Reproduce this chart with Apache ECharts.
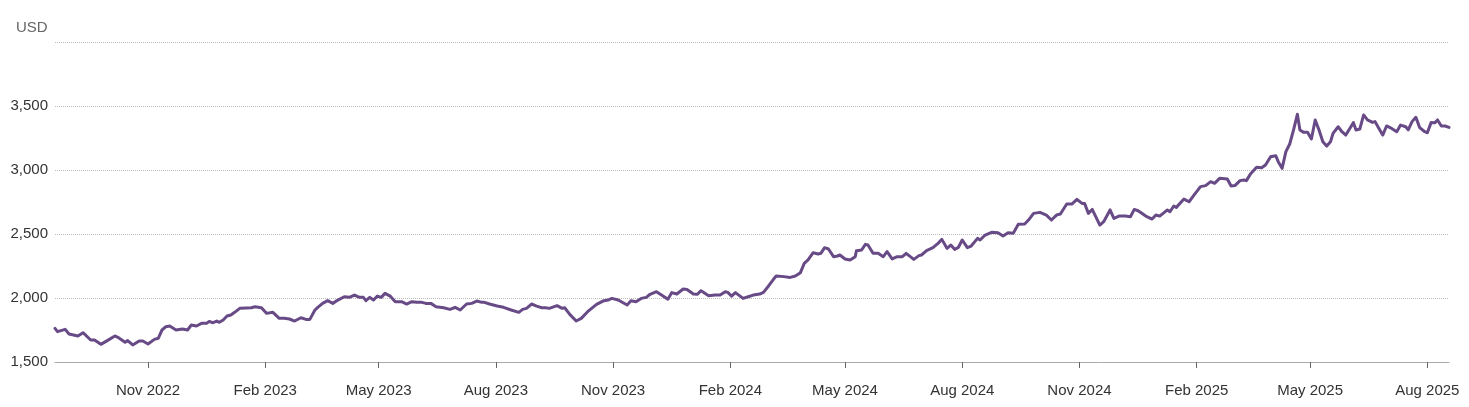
<!DOCTYPE html>
<html>
<head>
<meta charset="utf-8">
<script src="https://cdn.jsdelivr.net/npm/echarts@6/dist/echarts.min.js"></script>
<style>
html,body{margin:0;padding:0;background:#fff;}
#chart{width:1469px;height:407px;}
</style>
</head>
<body>
<div id="chart"></div>
<script>
// Dates of the readings
const dates = [
'2022-08-20','2022-08-22','2022-08-28','2022-08-31',
'2022-09-07','2022-09-11','2022-09-17','2022-09-20','2022-09-25','2022-09-30',
'2022-10-06','2022-10-08','2022-10-14','2022-10-16','2022-10-20','2022-10-25','2022-10-28',
'2022-11-01','2022-11-06','2022-11-09','2022-11-12','2022-11-15','2022-11-18','2022-11-23','2022-11-28',
'2022-12-02','2022-12-05','2022-12-09','2022-12-13','2022-12-17','2022-12-19','2022-12-22','2022-12-25','2022-12-27','2022-12-30',
'2023-01-02','2023-01-05','2023-01-08','2023-01-12','2023-01-17','2023-01-21','2023-01-24','2023-01-29',
'2023-02-02','2023-02-07','2023-02-12','2023-02-16','2023-02-20','2023-02-24',
'2023-03-01','2023-03-05','2023-03-08','2023-03-12','2023-03-14','2023-03-18','2023-03-22','2023-03-26','2023-03-30',
'2023-04-04','2023-04-08','2023-04-12','2023-04-16','2023-04-19','2023-04-21','2023-04-24','2023-04-27','2023-04-30',
'2023-05-03','2023-05-06','2023-05-10','2023-05-14','2023-05-19','2023-05-23','2023-05-27','2023-05-31',
'2023-06-04','2023-06-07','2023-06-11','2023-06-15','2023-06-21','2023-06-26','2023-06-30',
'2023-07-04','2023-07-09','2023-07-13','2023-07-17','2023-07-21','2023-07-23','2023-07-27',
'2023-08-02','2023-08-07','2023-08-13','2023-08-19','2023-08-22','2023-08-25','2023-08-29',
'2023-09-02','2023-09-06','2023-09-09','2023-09-12','2023-09-18','2023-09-22','2023-09-24','2023-09-28',
'2023-10-03','2023-10-07','2023-10-12','2023-10-19','2023-10-24','2023-10-28','2023-10-31',
'2023-11-05','2023-11-12','2023-11-15','2023-11-19','2023-11-23','2023-11-27','2023-11-30',
'2023-12-05','2023-12-09','2023-12-14','2023-12-17','2023-12-21','2023-12-26','2023-12-29',
'2024-01-03','2024-01-06','2024-01-09','2024-01-15','2024-01-20','2024-01-24','2024-01-28','2024-01-30',
'2024-02-02','2024-02-05','2024-02-11','2024-02-15','2024-02-19','2024-02-24','2024-02-27',
'2024-03-02','2024-03-06','2024-03-08','2024-03-14','2024-03-19','2024-03-23','2024-03-27','2024-03-30',
'2024-04-02','2024-04-06','2024-04-10','2024-04-12','2024-04-15','2024-04-18','2024-04-22','2024-04-25','2024-04-27',
'2024-05-01','2024-05-05','2024-05-09','2024-05-10','2024-05-14','2024-05-17','2024-05-19','2024-05-23','2024-05-27','2024-05-31',
'2024-06-03','2024-06-07','2024-06-11','2024-06-15','2024-06-18','2024-06-24','2024-06-28','2024-06-30',
'2024-07-04','2024-07-09','2024-07-13','2024-07-16','2024-07-20','2024-07-23','2024-07-26','2024-07-29',
'2024-08-01','2024-08-05','2024-08-08','2024-08-13','2024-08-15','2024-08-19','2024-08-24','2024-08-29',
'2024-09-02','2024-09-06','2024-09-10','2024-09-14','2024-09-19','2024-09-22','2024-09-26',
'2024-10-01','2024-10-06','2024-10-10','2024-10-14','2024-10-17','2024-10-22','2024-10-26','2024-10-30',
'2024-11-03','2024-11-05','2024-11-08','2024-11-11','2024-11-17','2024-11-20','2024-11-25','2024-11-28',
'2024-12-02','2024-12-07','2024-12-11','2024-12-14','2024-12-17','2024-12-23','2024-12-28','2024-12-31',
'2025-01-03','2025-01-09','2025-01-11','2025-01-14','2025-01-16','2025-01-22','2025-01-26','2025-01-30',
'2025-02-04','2025-02-08','2025-02-12','2025-02-15','2025-02-19','2025-02-25','2025-02-28',
'2025-03-03','2025-03-07','2025-03-10','2025-03-12','2025-03-15','2025-03-20','2025-03-24','2025-03-27','2025-03-31',
'2025-04-04','2025-04-06','2025-04-09','2025-04-12','2025-04-15','2025-04-18','2025-04-21','2025-04-23','2025-04-26','2025-04-29',
'2025-05-02','2025-05-05','2025-05-08','2025-05-11','2025-05-14','2025-05-17','2025-05-19','2025-05-23','2025-05-26','2025-05-29',
'2025-06-02','2025-06-04','2025-06-06','2025-06-09','2025-06-12','2025-06-15','2025-06-19','2025-06-21','2025-06-24','2025-06-27','2025-06-30',
'2025-07-04','2025-07-08','2025-07-11','2025-07-15','2025-07-17','2025-07-20','2025-07-23','2025-07-26','2025-07-30',
'2025-08-01','2025-08-04','2025-08-07','2025-08-09','2025-08-12','2025-08-15','2025-08-18'
];
// Price in USD
const prices = [
1763,1737,1755,1719,
1703,1729,1672,1672,1638,1667,
1703,1695,1654,1667,1633,1664,1664,
1641,1677,1685,1750,1776,1781,1750,1758,
1750,1789,1781,1802,1802,1817,1807,1820,1810,1828,
1859,1867,1888,1919,1922,1924,1932,1924,
1880,1888,1841,1841,1836,1820,
1846,1833,1833,1906,1924,1958,1979,1958,1984,
2010,2005,2023,2005,2005,1979,2005,1984,2015,
2005,2036,2015,1971,1971,1953,1971,1966,
1966,1958,1958,1932,1924,1911,1927,
1906,1953,1958,1976,1966,1966,1953,
1937,1927,1906,1888,1911,1919,1953,
1937,1924,1924,1919,1940,1919,1924,1872,
1820,1841,1893,1950,1976,1984,1997,
1984,1945,1979,1971,1997,2005,2029,
2049,2023,1990,2042,2031,2070,2067,
2031,2029,2057,2018,2023,2023,2049,2044,
2015,2042,1997,2010,2023,2031,2044,
2094,2148,2172,2167,2161,2172,2198,2271,
2297,2354,2344,2349,2393,2383,2323,2328,2336,
2305,2297,2323,2370,2375,2419,2414,2349,2349,2323,
2362,2305,2323,2323,2349,2302,2331,2336,
2370,2393,2427,2458,2388,2414,2380,2396,
2453,2393,2406,2466,2453,2492,2513,2510,
2484,2510,2505,2576,2578,2609,2661,
2669,2648,2609,2648,2656,2734,2734,2771,
2739,2739,2661,2692,2570,2596,2688,2622,
2640,2640,2635,2692,2682,2640,2617,2648,
2640,2688,2674,2719,2708,2773,2752,2805,
2870,2878,2909,2896,2935,2930,2875,
2878,2917,2922,2917,2966,3021,3018,3039,3104,
3112,3065,3013,3143,3203,3313,3435,3313,3294,3294,
3242,3391,3313,3221,3187,3221,3286,3338,3299,3273,
3338,3370,3313,3320,3430,3391,3372,3378,3325,3273,3344,
3325,3299,3351,3338,3313,3378,3412,3331,3299,
3291,3372,3370,3391,3344,3344,3333
];
const tickDates = ['2022-11-01','2023-02-01','2023-05-01','2023-08-01','2023-11-01','2024-02-01',
  '2024-05-01','2024-08-01','2024-11-01','2025-02-01','2025-05-01','2025-08-01'];
const monthNames = ['Jan','Feb','Mar','Apr','May','Jun','Jul','Aug','Sep','Oct','Nov','Dec'];
const yTicks = [1500, 2000, 2500, 3000, 3500];
const unitLabel = 'USD';

const toTs = s => { const p = s.split('-'); return Date.UTC(+p[0], +p[1]-1, +p[2]); };
const seriesData = dates.map((d, i) => [toTs(d), prices[i]]);
const tickTs = tickDates.map(toTs);
const xMin = toTs(dates[0]);
const xMax = toTs(dates[dates.length - 1]);

const chart = echarts.init(document.getElementById('chart'), null, {renderer: 'canvas'});
chart.setOption({
  animation: false,
  title: {
    text: unitLabel, left: 11, top: 15,
    textStyle: {fontFamily: 'Liberation Sans', fontSize: 15, fontWeight: 'normal', color: '#666'}
  },
  grid: {left: 55, right: 20, top: 42, bottom: 45, containLabel: false},
  xAxis: {
    type: 'value',
    min: xMin, max: xMax,
    axisLine: {show: true, lineStyle: {color: '#aaa', width: 1}},
    axisTick: {show: true, customValues: tickTs, length: 6, lineStyle: {color: '#666'}},
    axisLabel: {
      customValues: tickTs,
      margin: 21,
      fontFamily: 'Liberation Sans', fontSize: 15, color: '#333',
      formatter: v => { const d = new Date(v); return monthNames[d.getUTCMonth()] + ' ' + d.getUTCFullYear(); }
    },
    splitLine: {show: false}
  },
  yAxis: {
    type: 'value',
    min: 1500, max: 4000, interval: 500,
    axisLine: {show: false},
    axisTick: {show: false},
    axisLabel: {
      margin: 7,
      fontFamily: 'Liberation Sans', fontSize: 15, color: '#333',
      formatter: v => yTicks.indexOf(v) >= 0 ? v.toLocaleString('en-US') : ''
    },
    splitLine: {show: true, lineStyle: {color: '#bbb', type: [1, 1], width: 1}}
  },
  series: [{
    type: 'line',
    data: seriesData,
    showSymbol: false,
    smooth: false,
    lineStyle: {color: '#674a86', width: 3, join: 'round', cap: 'round'},
    itemStyle: {color: '#674a86'}
  }]
});
</script>
</body>
</html>
